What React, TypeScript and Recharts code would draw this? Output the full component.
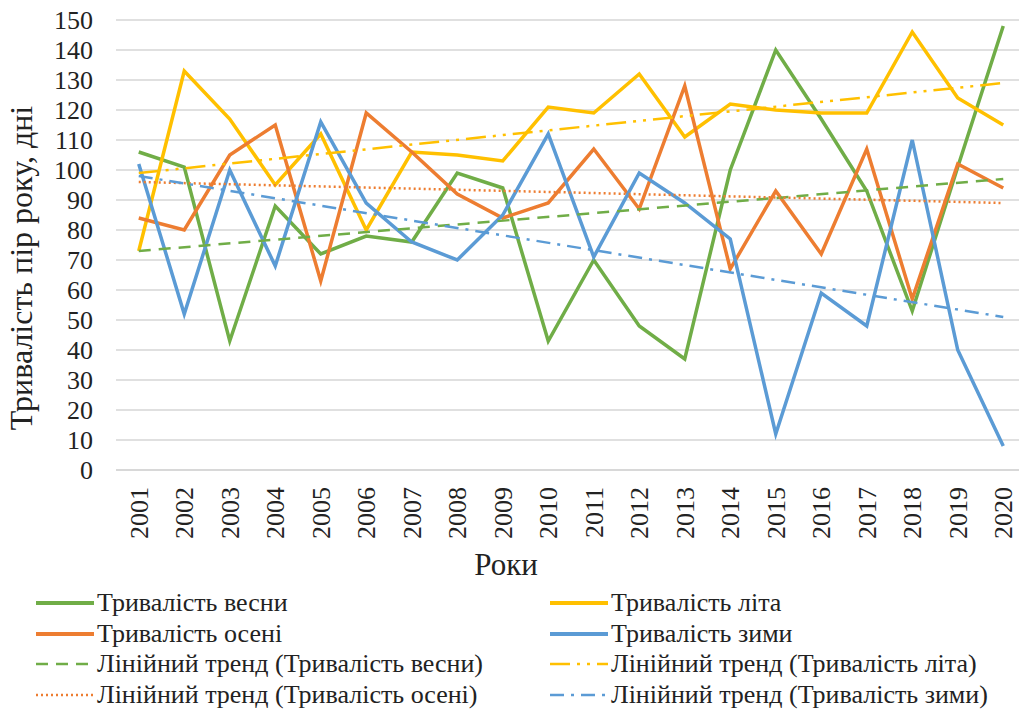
import React from "react";
import { LineChart, Line, XAxis, YAxis, CartesianGrid, Label } from "recharts";

const years = [
  "2001", "2002", "2003", "2004", "2005", "2006", "2007", "2008", "2009", "2010",
  "2011", "2012", "2013", "2014", "2015", "2016", "2017", "2018", "2019", "2020",
];
const spring = [106, 101, 43, 88, 72, 78, 76, 99, 94, 43, 70, 48, 37, 100, 140, 117, 93, 53, 101, 148];
const summer = [73, 133, 117, 95, 112, 80, 106, 105, 103, 121, 119, 132, 111, 122, 120, 119, 119, 146, 124, 115];
const autumn = [84, 80, 105, 115, 63, 119, 106, 92, 84, 89, 107, 87, 128, 67, 93, 72, 107, 57, 102, 94];
const winter = [102, 52, 100, 68, 116, 89, 76, 70, 85, 112, 71, 99, 89, 77, 12, 59, 48, 110, 40, 8];

// trend lines: values read at 2001 and 2020
const trendSpring = [73, 97];
const trendSummer = [99, 129];
const trendAutumn = [96, 89];
const trendWinter = [98, 51];

const yTicks = [0, 10, 20, 30, 40, 50, 60, 70, 80, 90, 100, 110, 120, 130, 140, 150];

const FONT = "Liberation Serif";
const TEXT = "#222";

const GREEN = "#70AD47";
const YELLOW = "#FFC000";
const ORANGE = "#ED7D31";
const BLUE = "#5B9BD5";

const series = [
  { key: "spring", name: "Тривалість весни", color: GREEN, width: 3.5, dash: undefined as string | undefined },
  { key: "summer", name: "Тривалість літа", color: YELLOW, width: 3.5, dash: undefined },
  { key: "autumn", name: "Тривалість осені", color: ORANGE, width: 3.5, dash: undefined },
  { key: "winter", name: "Тривалість зими", color: BLUE, width: 3.5, dash: undefined },
  { key: "tSpring", name: "Лінійний тренд (Тривалість весни)", color: GREEN, width: 2.5, dash: "12 8" },
  { key: "tSummer", name: "Лінійний тренд (Тривалість літа)", color: YELLOW, width: 2.5, dash: "20 7 3 7 3 7" },
  { key: "tAutumn", name: "Лінійний тренд (Тривалість осені)", color: ORANGE, width: 2.5, dash: "2 3" },
  { key: "tWinter", name: "Лінійний тренд (Тривалість зими)", color: BLUE, width: 2.5, dash: "14 7 3 7" },
];

const last = years.length - 1;
const data = years.map((year, i) => ({
  year,
  spring: spring[i],
  summer: summer[i],
  autumn: autumn[i],
  winter: winter[i],
  tSpring: i === 0 ? trendSpring[0] : i === last ? trendSpring[1] : null,
  tSummer: i === 0 ? trendSummer[0] : i === last ? trendSummer[1] : null,
  tAutumn: i === 0 ? trendAutumn[0] : i === last ? trendAutumn[1] : null,
  tWinter: i === 0 ? trendWinter[0] : i === last ? trendWinter[1] : null,
}));

const YearTick = (props: any) => {
  const { x, payload } = props;
  const y = 487;
  return (
    <text
      x={x}
      y={y}
      dy="0.35em"
      transform={`rotate(-90 ${x} ${y})`}
      textAnchor="end"
      fontFamily={FONT}
      fontSize={26}
      fill={TEXT}
    >
      {payload.value}
    </text>
  );
};

const YTick = (props: any) => {
  const { x, y, payload } = props;
  return (
    <text x={x} y={y} dy="0.34em" textAnchor="end" fontFamily={FONT} fontSize={26} fill={TEXT}>
      {payload.value}
    </text>
  );
};

function LegendBox() {
  return (
    <div style={{ position: "absolute", left: 0, top: 582, width: 1019, height: 140 }}>
      {series.map((s, i) => {
        const col = i % 2;
        const row = Math.floor(i / 2);
        const lx = col === 0 ? 36 : 550;
        const ly = 21 + row * 30.5;
        return (
          <div key={s.key} style={{ position: "absolute", left: lx, top: ly - 15, height: 30, display: "flex", alignItems: "center", whiteSpace: "nowrap" }}>
            <svg width={60} height={30} style={{ display: "block" }}>
              <line
                x1={0}
                x2={58}
                y1={15}
                y2={15}
                stroke={s.color}
                strokeWidth={s.dash ? 2.5 : 4}
                strokeDasharray={s.dash}
              />
            </svg>
            <span style={{ fontFamily: FONT, fontSize: 26, color: TEXT, lineHeight: "30px", marginLeft: 1 }}>{s.name}</span>
          </div>
        );
      })}
    </div>
  );
}

export default function App() {
  return (
    <div
      style={{
        position: "absolute",
        left: 0,
        top: 0,
        width: 1019,
        height: 722,
        overflow: "hidden",
        background: "#fff",
        fontFamily: FONT,
      }}
    >
      <LineChart width={1026} height={722} data={data} margin={{ top: 20, right: 0, left: 0, bottom: 142 }}>
        <CartesianGrid vertical={false} stroke="#d6d6d6" strokeWidth={1.3} />
        <XAxis
          dataKey="year"
          height={110}
          padding={{ left: 22.75, right: 22.75 }}
          tickLine={false}
          axisLine={{ stroke: "#d6d6d6", strokeWidth: 1.3 }}
          tick={<YearTick />}
          interval={0}
        >
          <Label
            content={() => (
              <text x={506} y={575} textAnchor="middle" fontFamily={FONT} fontSize={31} fill={TEXT}>
                Роки
              </text>
            )}
          />
        </XAxis>
        <YAxis
          width={116}
          domain={[0, 150]}
          ticks={yTicks}
          interval={0}
          tickLine={false}
          axisLine={false}
          tickSize={0}
          tickMargin={23}
          tick={<YTick />}
        >
          <Label
            content={() => (
              <text
                x={32}
                y={268}
                transform="rotate(-90 32 268)"
                textAnchor="middle"
                fontFamily={FONT}
                fontSize={32}
                fill={TEXT}
              >
                Тривалість пір року, дні
              </text>
            )}
          />
        </YAxis>
        {series.map((s) => (
          <Line
            key={s.key}
            type="linear"
            dataKey={s.key}
            name={s.name}
            stroke={s.color}
            strokeWidth={s.width}
            strokeDasharray={s.dash}
            dot={false}
            activeDot={false}
            connectNulls
            isAnimationActive={false}
          />
        ))}
      </LineChart>
      <LegendBox />
    </div>
  );
}
